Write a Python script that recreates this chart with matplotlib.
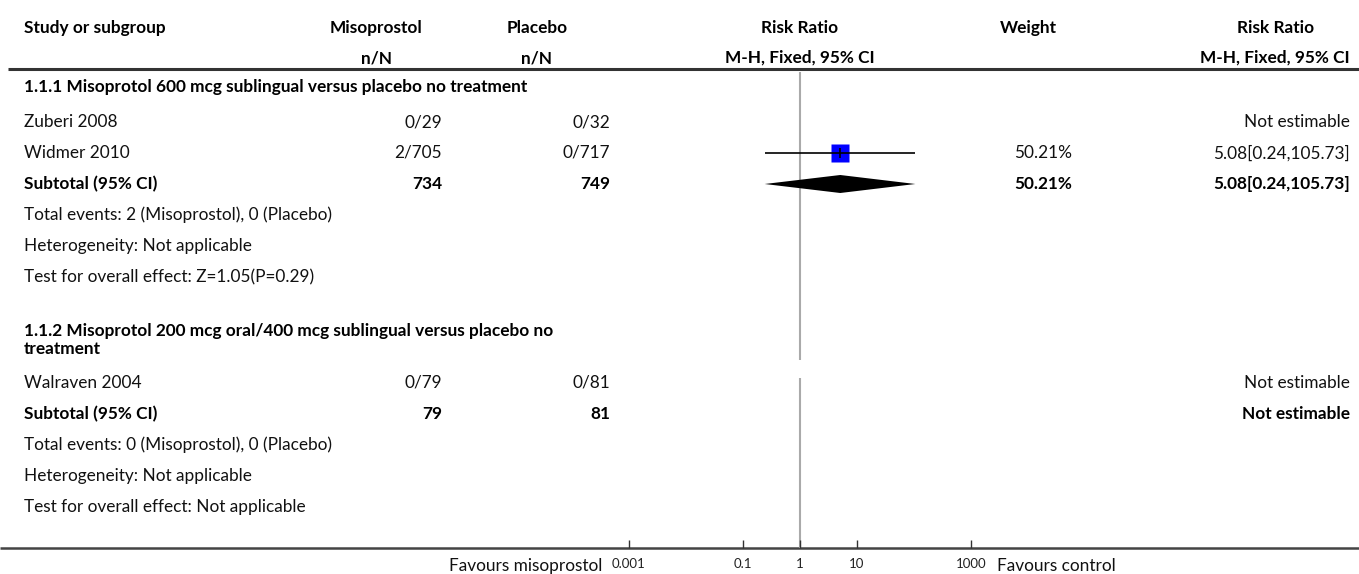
import matplotlib
matplotlib.use("Agg")
import matplotlib.pyplot as plt
from matplotlib.ticker import NullLocator

plt.rcParams["font.family"] = ["Lato", "DejaVu Sans"]

# ---- data ----------------------------------------------------------------
studies = ["Zuberi 2008", "Widmer 2010", "Walraven 2004"]
study_group = [1, 1, 2]
miso_events = ["0/29", "2/705", "0/79"]
plac_events = ["0/32", "0/717", "0/81"]
rr_est = [None, 5.08, None]
rr_lo = [None, 0.24, None]
rr_hi = [None, 105.73, None]
weights = ["", "50.21%", ""]
rr_text = ["Not estimable", "5.08[0.24,105.73]", "Not estimable"]

groups = ["1.1.1 Misoprotol 600 mcg sublingual versus placebo no treatment",
          "1.1.2 Misoprotol 200 mcg oral/400 mcg sublingual versus placebo no\ntreatment"]
sub_miso = ["734", "79"]
sub_plac = ["749", "81"]
sub_est = [5.08, None]
sub_lo = [0.24, None]
sub_hi = [105.73, None]
sub_weight = ["50.21%", ""]
sub_text = ["5.08[0.24,105.73]", "Not estimable"]
total_events = ["Total events: 2 (Misoprostol), 0 (Placebo)",
                "Total events: 0 (Misoprostol), 0 (Placebo)"]
heterogeneity = ["Heterogeneity: Not applicable", "Heterogeneity: Not applicable"]
overall = ["Test for overall effect: Z=1.05(P=0.29)", "Test for overall effect: Not applicable"]

ticks = [0.001, 0.1, 1, 10, 1000]
tick_labels = ["0.001", "0.1", "1", "10", "1000"]

# ---- layout (pixels, y from top) -----------------------------------------
W, H = 1359, 574
X_STUDY, X_MISO, X_PLAC = 24, 442, 610
X_PLOT0, X_PLOT1 = 629, 971
X_WEIGHT, X_RR = 1072, 1350
Y_AXIS = 548
FS = 12.4

fig = plt.figure(figsize=(W / 100, H / 100), dpi=100)
ax = fig.add_axes([0, 0, 1, 1])
ax.set_xlim(0, W)
ax.set_ylim(H, 0)
ax.axis("off")

fa = fig.add_axes([X_PLOT0 / W, (H - Y_AXIS) / H, (X_PLOT1 - X_PLOT0) / W, Y_AXIS / H])
fa.patch.set_alpha(0)
fa.set_xscale("log")
fa.set_xlim(ticks[0], ticks[-1])
fa.set_ylim(Y_AXIS, 0)
for s in fa.spines.values():
    s.set_visible(False)
fa.set_yticks([])
fa.set_xticks(ticks)
fa.set_xticklabels(tick_labels, fontsize=9.5, color="#222")
fa.xaxis.set_minor_locator(NullLocator())
fa.tick_params(axis="x", direction="in", length=6, width=1, color="#333", pad=7)

bold = dict(fontweight="bold", color="black", fontsize=FS, va="center")
norm = dict(color="#111", fontsize=FS, va="center")

# header
ax.text(X_STUDY, 28, "Study or subgroup", ha="left", **bold)
ax.text(376, 28, "Misoprostol", ha="center", **bold)
ax.text(376, 58, "n/N", ha="center", **bold)
ax.text(537, 28, "Placebo", ha="center", **bold)
ax.text(537, 58, "n/N", ha="center", **bold)
ax.text(800, 28, "Risk Ratio", ha="center", **bold)
ax.text(800, 58, "M-H, Fixed, 95% CI", ha="center", **bold)
ax.text(1028, 28, "Weight", ha="center", **bold)
mh = ax.text(X_RR, 58, "M-H, Fixed, 95% CI", ha="right", **bold)
fig.canvas.draw()
bb = mh.get_window_extent().transformed(ax.transData.inverted())
ax.text((bb.x0 + bb.x1) / 2, 28, "Risk Ratio", ha="center", **bold)
ax.plot([8, W], [69, 69], color="#333", lw=2.2, solid_capstyle="butt")

row_y = {1: [87, 122, 153, 184, 215, 246, 277], 2: [340, 383, 414, 445, 476, 507]}

for g in (1, 2):
    ys = row_y[g]
    ax.text(X_STUDY, ys[0], groups[g - 1], ha="left", linespacing=1.2, **bold)
    idx = [i for i, sg in enumerate(study_group) if sg == g]
    k = 1
    for i in idx:
        y = ys[k]
        ax.text(X_STUDY, y, studies[i], ha="left", **norm)
        ax.text(X_MISO, y, miso_events[i], ha="right", **norm)
        ax.text(X_PLAC, y, plac_events[i], ha="right", **norm)
        ax.text(X_WEIGHT, y, weights[i], ha="right", **norm)
        ax.text(X_RR, y, rr_text[i], ha="right", **norm)
        if rr_est[i] is not None:
            fa.plot([rr_est[i]], [y], marker="s", ms=12.3, color="#0000ff", mec="none", zorder=3)
            fa.hlines(y, rr_lo[i], rr_hi[i], color="black", lw=1.2, zorder=4)
            fa.plot([rr_est[i]], [y], marker="|", ms=7, color="black", mew=1.2, zorder=5)
        k += 1
    y = ys[k]
    ax.text(X_STUDY, y, "Subtotal (95% CI)", ha="left", **bold)
    ax.text(X_MISO, y, sub_miso[g - 1], ha="right", **bold)
    ax.text(X_PLAC, y, sub_plac[g - 1], ha="right", **bold)
    ax.text(X_WEIGHT, y, sub_weight[g - 1], ha="right", **bold)
    ax.text(X_RR, y, sub_text[g - 1], ha="right", **bold)
    if sub_est[g - 1] is not None:
        e, lo, hi = sub_est[g - 1], sub_lo[g - 1], sub_hi[g - 1]
        fa.fill([lo, e, hi, e], [y, y - 9, y, y + 9], color="black", lw=0, zorder=3)
    ax.text(X_STUDY, ys[k + 1], total_events[g - 1], ha="left", **norm)
    ax.text(X_STUDY, ys[k + 2], heterogeneity[g - 1], ha="left", **norm)
    ax.text(X_STUDY, ys[k + 3], overall[g - 1], ha="left", **norm)

# line of no effect (broken around the second heading)
fa.vlines(1, 72, 360, color="#aaaaaa", lw=1.5, zorder=1)
fa.vlines(1, 378, Y_AXIS, color="#aaaaaa", lw=1.5, zorder=1)

# bottom axis
ax.plot([0, W], [Y_AXIS, Y_AXIS], color="#444", lw=1.8, solid_capstyle="butt")
ax.text(602, 566, "Favours misoprostol", ha="right", **norm)
ax.text(997, 566, "Favours control", ha="left", **norm)

fig.savefig("out.png", dpi=100)
